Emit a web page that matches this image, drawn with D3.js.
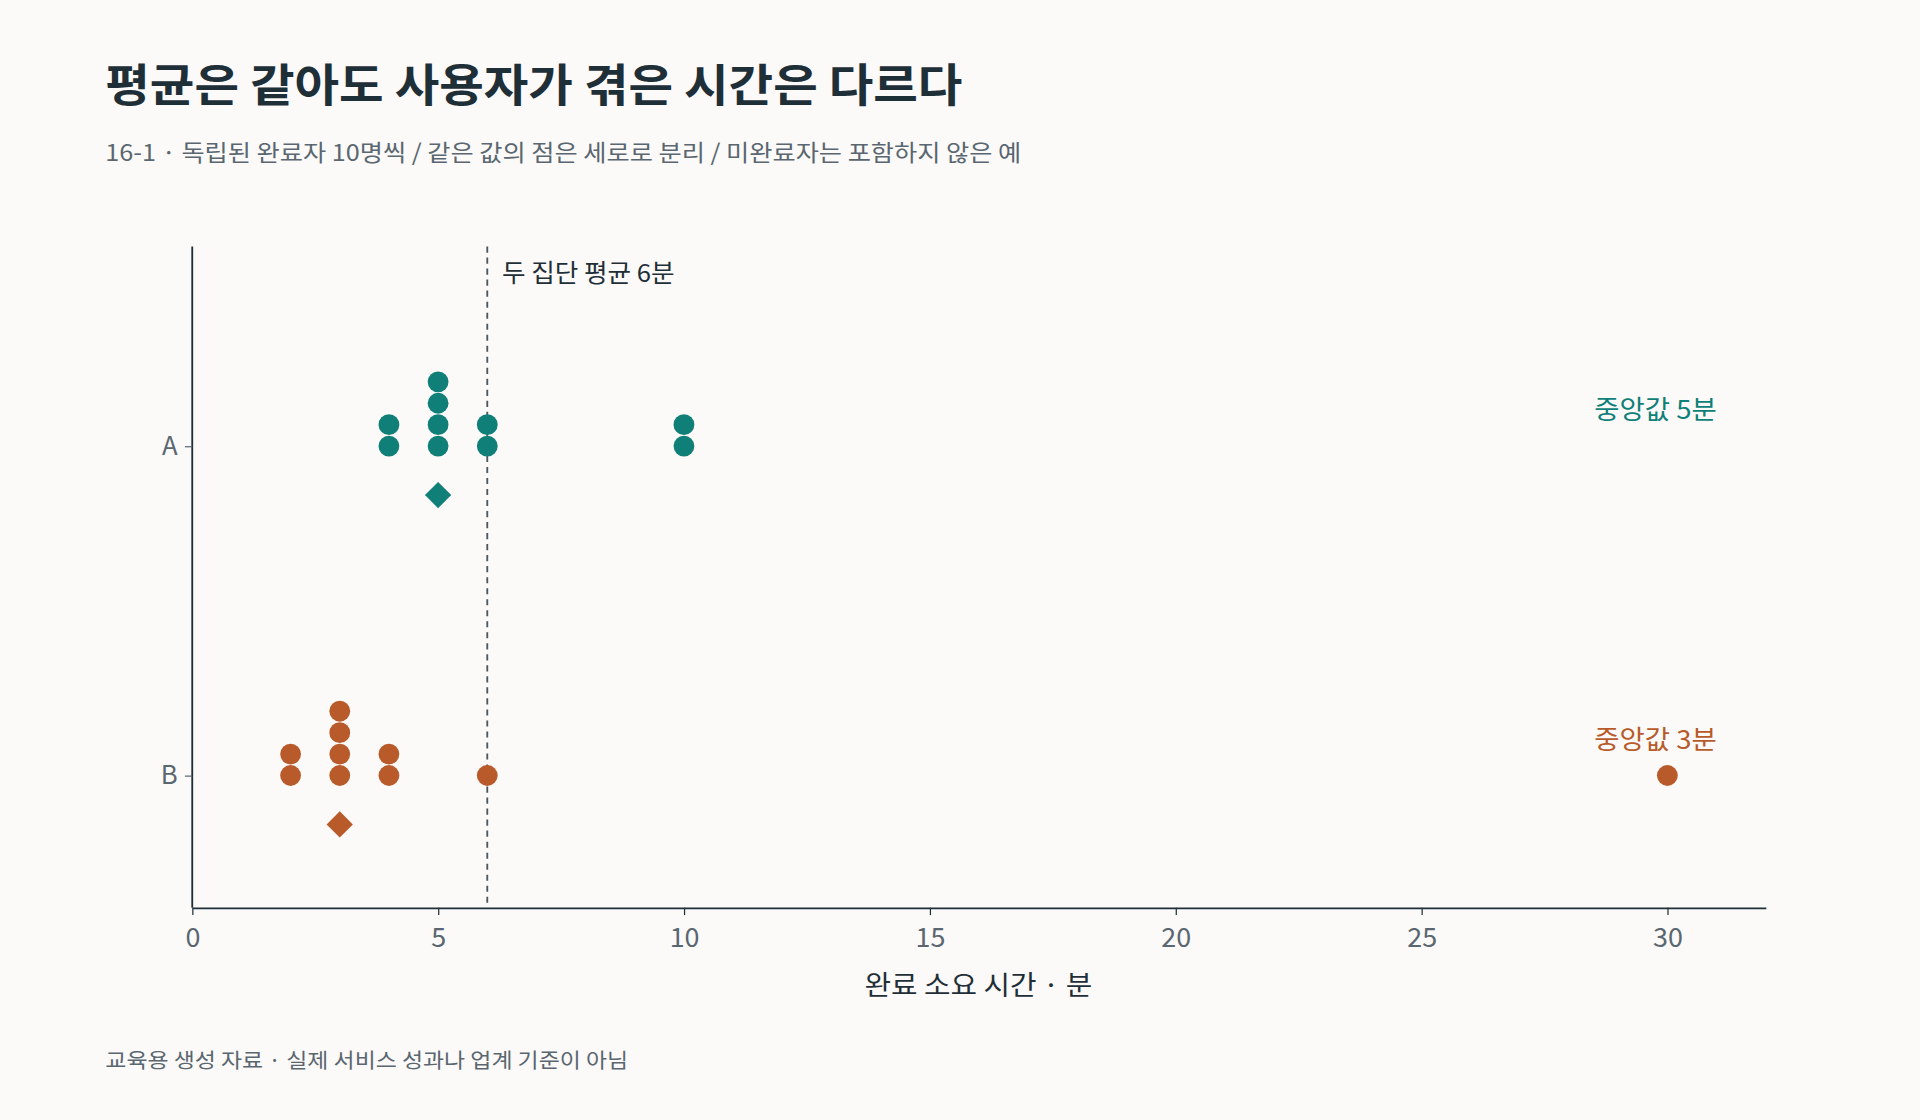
<!DOCTYPE html><html><head><meta charset="utf-8"><script src="https://cdn.jsdelivr.net/npm/d3@7"></script>
<style>body{margin:0;background:#fbfaf8}svg{display:block}text{font-family:"Noto Sans CJK KR","Noto Sans",sans-serif}</style></head><body>
<svg id="c" width="1920" height="1120" viewBox="0 0 1568 914"></svg>
<script>
const groups=["A","B"];
const valuesA=[4,4,5,5,5,5,6,6,10,10];
const valuesB=[2,2,3,3,3,3,4,4,6,30];
const medians=[5,3];
const mean=6;
const xTicks=[0,5,10,15,20,25,30];
const colors=["#0f7f78","#b85a2a"];
const svg=d3.select("#c");
svg.append("rect").attr("width",1568).attr("height",914).attr("fill","#fbfaf8");
const x=d3.scaleLinear().domain([0,32]).range([157,1442]);
const y=d3.scalePoint().domain(groups).range([364,633]);
svg.append("text").attr("x",86).attr("y",83).attr("font-size",37).attr("font-weight",700).attr("fill","#1f2f38").attr("textLength",700).attr("lengthAdjust","spacingAndGlyphs").text("평균은 같아도 사용자가 겪은 시간은 다르다");
svg.append("text").attr("x",86).attr("y",131).attr("font-size",19).attr("fill","#5a6670").attr("textLength",748).attr("lengthAdjust","spacingAndGlyphs").text("16-1 · 독립된 완료자 10명씩 / 같은 값의 점은 세로로 분리 / 미완료자는 포함하지 않은 예");
svg.append("text").attr("x",86).attr("y",872).attr("font-size",17).attr("fill","#5a6670").attr("textLength",427).attr("lengthAdjust","spacingAndGlyphs").text("교육용 생성 자료 · 실제 서비스 성과나 업계 기준이 아님");
const xa=svg.append("g").attr("transform","translate(0,741)").call(d3.axisBottom(x).tickValues(xTicks).tickSize(6).tickSizeOuter(0));
xa.select(".domain").attr("stroke","#1f2f38").attr("stroke-width",1.5);
xa.selectAll(".tick line").attr("stroke","#1f2f38");
xa.selectAll("text").attr("font-size",22).attr("fill","#5a6670").attr("dy","1.05em");
const ya=svg.append("g").attr("transform","translate(157,0)").call(d3.axisLeft(y).tickSize(6).tickSizeOuter(0));
ya.select(".domain").attr("d","M0,201V741").attr("stroke","#1f2f38").attr("stroke-width",1.5);
ya.selectAll(".tick line").attr("stroke","#5a6670");
ya.selectAll("text").attr("font-size",21).attr("fill","#5a6670").attr("x",-12);
svg.append("text").attr("x",799).attr("y",812).attr("text-anchor","middle").attr("font-size",22).attr("fill","#1f2f38").attr("textLength",186).attr("lengthAdjust","spacingAndGlyphs").text("완료 소요 시간 · 분");
svg.append("line").attr("x1",x(mean)).attr("x2",x(mean)).attr("y1",201).attr("y2",741).attr("stroke","#4a5660").attr("stroke-width",1.5).attr("stroke-dasharray","5,4");
svg.append("text").attr("x",x(mean)+12).attr("y",230).attr("font-size",20).attr("fill","#1f2f38").attr("textLength",141).attr("lengthAdjust","spacingAndGlyphs").text("두 집단 평균 6분");
[valuesA,valuesB].forEach((vals,gi)=>{
  const cnt={};
  const pts=vals.map(v=>{cnt[v]=(cnt[v]||0);const k=cnt[v]++;return {v,k};});
  svg.append("g").selectAll("circle").data(pts).join("circle")
    .attr("cx",d=>x(d.v)).attr("cy",d=>y(groups[gi])-d.k*17.5).attr("r",8.5).attr("fill",colors[gi]);
  svg.append("path").attr("d",d3.symbol(d3.symbolSquare,230)()).attr("fill",colors[gi])
    .attr("transform",`translate(${x(medians[gi])},${y(groups[gi])+40}) rotate(45)`);
  svg.append("text").attr("x",1402).attr("y",y(groups[gi])-22).attr("text-anchor","end").attr("font-size",21).attr("fill",colors[gi]).attr("textLength",100).attr("lengthAdjust","spacingAndGlyphs").text(`중앙값 ${medians[gi]}분`);
});
</script></body></html>
